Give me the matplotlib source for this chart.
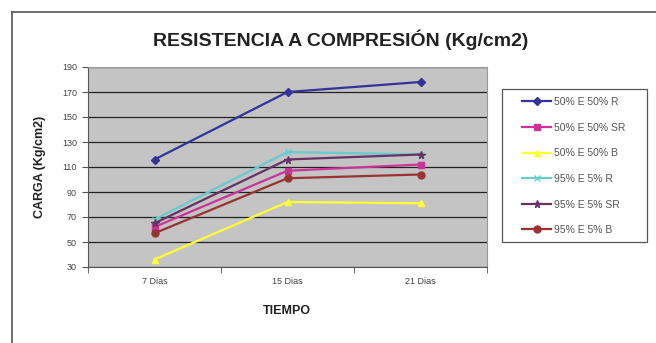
import matplotlib
matplotlib.use("Agg")
import matplotlib.pyplot as plt
from matplotlib.lines import Line2D
from matplotlib.patches import Rectangle

plt.rcParams["font.family"] = ["Liberation Sans", "DejaVu Sans"]

categories = ["7 Dias", "15 Dias", "21 Dias"]
series_names = [
    "50% E 50% R",
    "50% E 50% SR",
    "50% E 50% B",
    "95% E 5% R",
    "95% E 5% SR",
    "95% E 5% B",
]
e50_r = [116, 170, 178]
e50_sr = [62, 107, 112]
e50_b = [36, 82, 81]
e95_r = [68, 122, 120]
e95_sr = [65, 116, 120]
e95_b = [57, 101, 104]
y_ticks = [30, 50, 70, 90, 110, 130, 150, 170, 190]

values = [e50_r, e50_sr, e50_b, e95_r, e95_sr, e95_b]
colors = ["#333399", "#cc3399", "#ffff33", "#66cccc", "#663366", "#993333"]
markers = ["D", "s", "^", "x", "*", "o"]
msizes = [4, 4.5, 4.5, 5, 5.5, 5]

W, H = 656, 343
fig = plt.figure(figsize=(W / 100, H / 100), dpi=100)

# chart area border
fig.add_artist(Line2D([12 / W, 12 / W], [0, 1 - 12 / H], color="#555555", lw=1.2))
fig.add_artist(Line2D([12 / W, 1], [1 - 12 / H, 1 - 12 / H], color="#555555", lw=1.2))

ax = fig.add_axes([88 / W, 1 - 267 / H, 399 / W, 200 / H])
ax.set_facecolor("#c4c4c4")
xs = list(range(len(categories)))
for name, vals, c, m, ms in zip(series_names, values, colors, markers, msizes):
    ax.plot(xs, vals, color=c, marker=m, markersize=ms, lw=1.6,
            markeredgecolor=c, label=name)

ax.set_xlim(-0.5, 2.5)
ax.set_ylim(30, 190)
ax.set_yticks(y_ticks)
ax.set_yticklabels([str(v) for v in y_ticks], fontsize=6.5, color="#444444")
ax.set_xticks(xs)
ax.set_xticklabels(categories, fontsize=6.5, color="#444444")
ax.tick_params(axis="x", length=0, pad=7)
ax.set_xticks([-0.5, 0.5, 1.5, 2.5], minor=True)
ax.tick_params(axis="x", which="minor", length=4, color="#555555", direction="out")
ax.tick_params(axis="y", length=4, color="#555555", pad=4)
ax.grid(axis="y", color="#222222", lw=0.9)
ax.set_axisbelow(True)
for side in ["top", "right"]:
    ax.spines[side].set_color("#999999")
for side in ["left", "bottom"]:
    ax.spines[side].set_color("#555555")

fig.text(341 / W, 1 - 40 / H, "RESISTENCIA A COMPRESIÓN (Kg/cm2)",
         ha="center", va="center", fontsize=14, fontweight="bold", color="#222222")
fig.text(287 / W, 1 - 311 / H, "TIEMPO", ha="center", va="center",
         fontsize=9, fontweight="bold", color="#222222")
fig.text(40 / W, 1 - 167 / H, "CARGA (Kg/cm2)", ha="center", va="center",
         rotation=90, fontsize=9, fontweight="bold", color="#222222")

# legend frame drawn separately so the inner padding matches
fig.add_artist(Rectangle((502 / W, 1 - 242 / H), 145 / W, 153 / H,
                         transform=fig.transFigure, fill=False,
                         edgecolor="#555555", lw=0.9))
leg = fig.legend(loc="upper left", bbox_to_anchor=(522 / W, 1 - 97 / H),
                 fontsize=7.5, frameon=False, labelspacing=1.5,
                 handlelength=2.8, borderpad=0, handletextpad=0.25,
                 borderaxespad=0)
for t in leg.get_texts():
    t.set_color("#555555")

fig.savefig("out.png", dpi=100, facecolor="white")
